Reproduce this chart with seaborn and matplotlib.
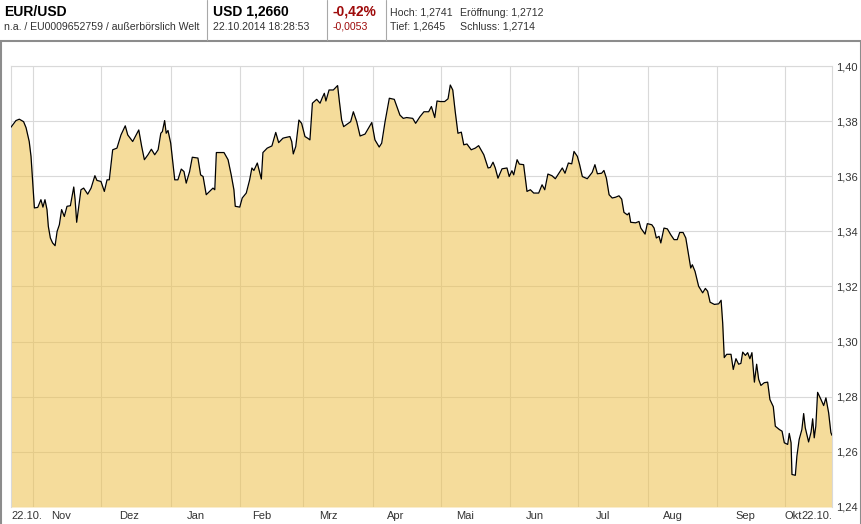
import pandas as pd
import matplotlib
matplotlib.use("Agg")
import matplotlib.pyplot as plt
from matplotlib.lines import Line2D
from matplotlib.patches import Rectangle
import seaborn as sns

sns.set_style("white")
plt.rcParams["font.family"] = ["Liberation Sans", "DejaVu Sans"]

START = pd.Timestamp("2013-10-22")

# days since 22.10.2013 and EUR/USD rate
days = [
    0.0, 2.2, 3.7, 5.6, 6.7, 8.1, 8.9, 9.6, 10.4, 11.9,
    13.3, 14.2, 15.1, 16.0, 16.6, 17.5, 18.5, 19.6, 20.5, 21.5,
    22.5, 23.7, 24.9, 26.4, 27.9, 28.5, 29.2, 31.1, 32.3, 34.1,
    35.6, 37.3, 38.2, 40.0, 41.5, 42.7, 43.7, 45.2, 47.1, 48.9,
    50.8, 51.9, 54.1, 56.8, 58.1, 59.3, 60.9, 62.4, 63.9, 65.4,
    66.6, 67.3, 68.3, 69.0, 69.8, 71.0, 72.8, 74.2, 75.7, 76.9,
    77.9, 79.4, 80.6, 83.1, 84.3, 85.4, 86.8, 88.3, 89.8, 90.6,
    91.3, 94.7, 96.5, 97.9, 99.1, 99.7, 101.7, 102.8, 104.6, 106.1,
    107.1, 108.0, 109.5, 111.3, 112.0, 113.9, 116.0, 117.7, 119.0, 120.9,
    121.8, 124.0, 124.8, 125.5, 126.6, 128.0, 129.2, 130.7, 131.9, 132.9,
    134.0, 135.9, 137.4, 138.4, 139.3, 140.0, 141.4, 143.3, 145.2, 146.0,
    147.0, 147.9, 150.0, 151.0, 152.2, 153.7, 155.2, 157.4, 160.4, 161.8,
    163.7, 164.8, 166.3, 168.2, 170.4, 172.9, 174.4, 175.9, 178.6, 179.9,
    181.8, 183.6, 185.7, 186.9, 188.4, 189.4, 190.9, 192.8, 194.3, 195.3,
    196.4, 197.5, 198.7, 200.2, 201.3, 202.7, 204.6, 206.4, 207.9, 210.2,
    212.1, 213.1, 214.3, 215.3, 216.5, 218.3, 220.5, 221.5, 222.7, 223.5,
    225.0, 226.0, 227.9, 229.4, 230.9, 232.4, 234.6, 236.1, 237.3, 238.7,
    240.5, 242.0, 243.6, 245.1, 246.3, 247.8, 249.3, 250.3, 251.8, 252.8,
    254.0, 256.2, 258.4, 259.6, 260.7, 262.6, 263.6, 264.7, 265.9, 267.3,
    268.8, 270.3, 271.5, 272.5, 274.0, 274.8, 275.5, 277.7, 279.2, 280.0,
    281.9, 282.9, 284.9, 285.9, 286.9, 288.1, 288.9, 290.3, 291.8, 293.3,
    294.8, 296.2, 297.3, 298.8, 300.0, 301.1, 302.2, 302.9, 304.1, 305.7,
    307.5, 308.7, 309.7, 310.8, 312.7, 314.6, 315.7, 316.4, 317.1, 318.2,
    320.1, 321.1, 322.3, 323.5, 324.5, 325.3, 326.5, 327.5, 328.5, 329.4,
    330.5, 331.5, 332.4, 333.4, 334.9, 336.4, 337.4, 338.9, 339.8, 341.6,
    342.8, 343.8, 345.3, 346.0, 346.8, 347.2, 348.7, 349.4, 350.4, 351.6,
    352.4, 353.1, 354.6, 355.7, 356.4, 357.1, 357.8, 358.6, 360.1, 361.3,
    362.3, 363.5, 364.5, 365.0,
]
eurusd = [
    1.3778, 1.3802, 1.3807, 1.3798, 1.3776, 1.3726, 1.3672, 1.3587, 1.3485, 1.3487,
    1.3515, 1.3488, 1.3515, 1.3479, 1.3418, 1.3376, 1.3358, 1.3348, 1.3400, 1.3424,
    1.3479, 1.3454, 1.3491, 1.3493, 1.3561, 1.3515, 1.3433, 1.3551, 1.3557, 1.3535,
    1.3557, 1.3602, 1.3585, 1.3581, 1.3545, 1.3587, 1.3587, 1.3696, 1.3702, 1.3750,
    1.3783, 1.3750, 1.3726, 1.3768, 1.3708, 1.3660, 1.3678, 1.3698, 1.3678, 1.3696,
    1.3756, 1.3762, 1.3802, 1.3756, 1.3766, 1.3720, 1.3587, 1.3587, 1.3626, 1.3617,
    1.3575, 1.3617, 1.3669, 1.3666, 1.3605, 1.3599, 1.3533, 1.3545, 1.3557, 1.3551,
    1.3686, 1.3686, 1.3660, 1.3605, 1.3551, 1.3491, 1.3488, 1.3521, 1.3539, 1.3587,
    1.3630, 1.3621, 1.3648, 1.3590, 1.3686, 1.3702, 1.3710, 1.3759, 1.3722, 1.3738,
    1.3740, 1.3744, 1.3726, 1.3681, 1.3708, 1.3804, 1.3792, 1.3744, 1.3738, 1.3732,
    1.3865, 1.3879, 1.3865, 1.3885, 1.3901, 1.3873, 1.3913, 1.3913, 1.3929, 1.3871,
    1.3804, 1.3780, 1.3792, 1.3798, 1.3834, 1.3798, 1.3746, 1.3753, 1.3795, 1.3732,
    1.3706, 1.3720, 1.3798, 1.3883, 1.3879, 1.3822, 1.3810, 1.3813, 1.3810, 1.3792,
    1.3816, 1.3834, 1.3834, 1.3853, 1.3813, 1.3873, 1.3871, 1.3871, 1.3881, 1.3931,
    1.3913, 1.3834, 1.3756, 1.3760, 1.3714, 1.3717, 1.3696, 1.3702, 1.3711, 1.3678,
    1.3630, 1.3632, 1.3651, 1.3630, 1.3593, 1.3627, 1.3630, 1.3599, 1.3620, 1.3605,
    1.3660, 1.3644, 1.3642, 1.3545, 1.3551, 1.3539, 1.3539, 1.3569, 1.3551, 1.3608,
    1.3602, 1.3591, 1.3611, 1.3630, 1.3611, 1.3648, 1.3645, 1.3690, 1.3672, 1.3642,
    1.3599, 1.3591, 1.3614, 1.3642, 1.3609, 1.3611, 1.3621, 1.3593, 1.3533, 1.3521,
    1.3524, 1.3529, 1.3517, 1.3469, 1.3460, 1.3467, 1.3433, 1.3431, 1.3436, 1.3412,
    1.3390, 1.3428, 1.3424, 1.3412, 1.3376, 1.3382, 1.3358, 1.3412, 1.3409, 1.3388,
    1.3370, 1.3370, 1.3396, 1.3396, 1.3376, 1.3322, 1.3267, 1.3279, 1.3255, 1.3201,
    1.3177, 1.3193, 1.3183, 1.3143, 1.3135, 1.3137, 1.3150, 1.3068, 1.2942, 1.2954,
    1.2954, 1.2899, 1.2938, 1.2918, 1.2921, 1.2962, 1.2950, 1.2960, 1.2938, 1.2960,
    1.2853, 1.2918, 1.2863, 1.2841, 1.2851, 1.2853, 1.2790, 1.2764, 1.2693, 1.2681,
    1.2675, 1.2633, 1.2627, 1.2667, 1.2633, 1.2518, 1.2515, 1.2585, 1.2645, 1.2681,
    1.2739, 1.2688, 1.2636, 1.2672, 1.2720, 1.2651, 1.2693, 1.2816, 1.2790, 1.2768,
    1.2796, 1.2742, 1.2670, 1.2660,
]

grid_months = ["2013-11-01", "2013-12-01", "2014-01-01", "2014-02-01",
               "2014-03-01", "2014-04-01", "2014-05-01", "2014-06-01",
               "2014-07-01", "2014-08-01", "2014-09-01", "2014-10-01"]
label_dates = ["2013-10-22", "2013-11-09", "2013-12-09", "2014-01-08",
               "2014-02-06", "2014-03-08", "2014-04-07", "2014-05-08",
               "2014-06-08", "2014-07-09", "2014-08-08", "2014-09-09",
               "2014-10-01", "2014-10-22"]
label_texts = ["22.10.", "Nov", "Dez", "Jan", "Feb", "Mrz", "Apr", "Mai",
               "Jun", "Jul", "Aug", "Sep", "Okt", "22.10."]
y_ticks = [1.24, 1.26, 1.28, 1.30, 1.32, 1.34, 1.36, 1.38, 1.40]

W, H = 862, 524
RED = "#9E0A0A"
TXT = "#333333"
GRID = "#D9D9D9"

df = pd.DataFrame({
    "date": START + pd.to_timedelta(days, unit="D"),
    "kurs": eurusd,
})

fig = plt.figure(figsize=(W / 100, H / 100), dpi=100)
ax = fig.add_axes([11 / W, 17 / H, 821 / W, 441 / H])

ax.fill_between(df["date"], df["kurs"], y_ticks[0], color="#EEC04A",
                alpha=0.55, lw=0, zorder=1)
sns.lineplot(data=df, x="date", y="kurs", color="black", lw=0.9, ax=ax, zorder=3)

ax.set_xlim(START, START + pd.Timedelta(days=365))
ax.set_ylim(y_ticks[0], y_ticks[-1])
ax.set_xlabel("")
ax.set_ylabel("")

# grid at month starts, labels a week in
ax.xaxis.remove_overlapping_locs = False
ax.set_xticks(pd.to_datetime(grid_months))
ax.set_xticklabels([])
ax.set_xticks(pd.to_datetime(label_dates), minor=True)
ax.set_xticklabels(label_texts, minor=True)
labels = ax.get_xticklabels(minor=True)
for lbl in labels:
    lbl.set_ha("left")
labels[-1].set_ha("right")

ax.yaxis.tick_right()
ax.set_yticks(y_ticks)
ax.set_yticklabels([f"{v:.2f}".replace(".", ",") for v in y_ticks])
ax.tick_params(axis="x", which="both", length=0, pad=3, labelsize=8, labelcolor=TXT)
ax.tick_params(axis="y", length=0, pad=3, labelsize=8, labelcolor=TXT)

ax.set_axisbelow(True)
ax.grid(True, which="major", color=GRID, lw=0.8)
for side in ["left", "right", "top"]:
    ax.spines[side].set_color(GRID)
    ax.spines[side].set_linewidth(0.8)
ax.spines["bottom"].set_visible(False)

# header strip
def fx(px):
    return px / W

def fy(px):
    return 1 - px / H

fig.text(fx(4), fy(16), "EUR/USD", fontsize=10, fontweight="bold", color="black")
fig.text(fx(4), fy(29.5), "n.a. / EU0009652759 / außerbörslich Welt", fontsize=7.6, color=TXT)
fig.text(fx(213), fy(16), "USD 1,2660", fontsize=10, fontweight="bold", color="black")
fig.text(fx(213), fy(29.5), "22.10.2014 18:28:53", fontsize=7.6, color=TXT)
fig.text(fx(333), fy(16), "-0,42%", fontsize=10, fontweight="bold", color=RED)
fig.text(fx(333), fy(29.5), "-0,0053", fontsize=7.6, color=RED)
fig.text(fx(390), fy(15.5), "Hoch: 1,2741", fontsize=7.6, color=TXT)
fig.text(fx(460), fy(15.5), "Eröffnung: 1,2712", fontsize=7.6, color=TXT)
fig.text(fx(390), fy(29.5), "Tief: 1,2645", fontsize=7.6, color=TXT)
fig.text(fx(460), fy(29.5), "Schluss: 1,2714", fontsize=7.6, color=TXT)

for sx in [207, 327, 386]:
    fig.add_artist(Line2D([fx(sx), fx(sx)], [fy(0), fy(40)],
                          transform=fig.transFigure, color="#A8A8A8", lw=0.8))

fig.add_artist(Rectangle((fx(1), fy(H + 5)), fx(860), (H - 41 + 5) / H,
                         transform=fig.transFigure, fill=False,
                         edgecolor="#8C8C8C", lw=1.5))

fig.savefig("out.png", dpi=100)
